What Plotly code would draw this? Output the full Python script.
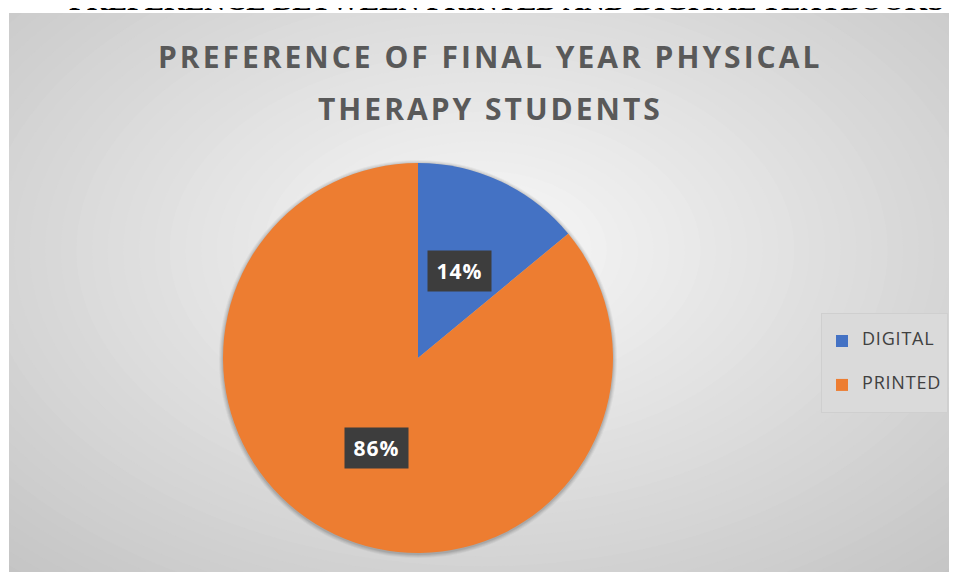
import math
import plotly.graph_objects as go

# ---- data ----
categories = ["DIGITAL", "PRINTED"]
percent_values = [14, 86]
slice_colors = ["#4472C4", "#ED7D31"]
title_lines = ["PREFERENCE OF FINAL YEAR PHYSICAL", "THERAPY STUDENTS"]
page_heading = "PREFERENCE BETWEEN PRINTED AND DIGITAL TEXTBOOKS"

# browser body margin is 8px; keep the page from scrolling
OFF = 8
W, H = 957 - OFF, 580 - 2 * OFF


def px(x):
    """page pixel x -> paper x"""
    return (x - OFF) / W


def py(y):
    """page pixel y -> paper y"""
    return 1 - (y - OFF) / H


# pie geometry (page pixels)
cx, cy, R = 418, 358, 195
chart_top = 13

legend_labels = [
    f"&nbsp;<br><span style='font-size:18px;letter-spacing:0.8px'>{c}</span><br>&nbsp;"
    for c in categories
]

fig = go.Figure(
    go.Pie(
        labels=legend_labels,
        values=percent_values,
        sort=False,
        direction="clockwise",
        rotation=0,
        marker=dict(colors=slice_colors, line=dict(width=0)),
        textinfo="none",
        hovertext=categories,
        hoverinfo="text+percent",
        domain=dict(x=[px(cx - R), px(cx + R)], y=[py(cy + R), py(cy - R)]),
    )
)

# ---- background: radial grey gradient ----
shapes = [
    dict(type="rect", xref="paper", yref="paper", x0=px(9), x1=1, y0=0, y1=py(chart_top),
         fillcolor="rgb(190,190,190)", line_width=0, layer="below")
]
gx, gy, ax, ay = 482, 250, 600, 380
K = 50
for i in range(K, 0, -1):
    d = 1.3 * i / K
    c = max(0, min(255, round(249 - 45 * d)))
    shapes.append(dict(
        type="circle", xref="paper", yref="paper",
        x0=px(gx - ax * d), x1=px(gx + ax * d),
        y0=py(gy + ay * d), y1=py(gy - ay * d),
        fillcolor=f"rgb({c},{c},{c})", line_width=0, layer="below"))
# white page strips (left and top)
shapes.append(dict(type="rect", xref="paper", yref="paper", x0=px(-200), x1=px(9),
                   y0=py(800), y1=py(-200), fillcolor="white", line_width=0, layer="below"))
shapes.append(dict(type="rect", xref="paper", yref="paper", x0=px(-200), x1=px(1200),
                   y0=py(chart_top), y1=py(-200), fillcolor="white", line_width=0, layer="below"))
# soft shadow around the pie
for k, op in [(4, 0.04), (3, 0.05), (2, 0.06), (1, 0.08)]:
    shapes.append(dict(
        type="circle", xref="paper", yref="paper",
        x0=px(cx - R - k), x1=px(cx + R + k), y0=py(cy + R + k + 1), y1=py(cy - R - k + 1),
        fillcolor=f"rgba(0,0,0,{op})", line_width=0, layer="below"))

annotations = []
# clipped page heading at very top
annotations.append(dict(
    text=page_heading, xref="paper", yref="paper", x=px(506), y=py(chart_top + 5),
    xanchor="center", yanchor="bottom", showarrow=False,
    font=dict(family="Liberation Serif", size=29, color="black", weight="bold")))
# chart title
for line, yc in zip(title_lines, [56, 108]):
    annotations.append(dict(
        text=f"<span style='letter-spacing:3px'><b>{line}</b></span>",
        xref="paper", yref="paper", x=px(490), y=py(yc),
        xanchor="center", yanchor="middle", showarrow=False,
        font=dict(family="Open Sans", size=30, color="#595959")))

# data labels at half radius along slice mid-angle
total = sum(percent_values)
cum = 0
for v in percent_values:
    mid = (cum + v / 2) / total * 2 * math.pi
    cum += v
    lx = cx + 0.5 * R * math.sin(mid)
    ly = cy - 0.5 * R * math.cos(mid)
    annotations.append(dict(
        text=f"<span style='letter-spacing:1px'><b>{v}%</b></span>",
        xref="paper", yref="paper", x=px(lx), y=py(ly + 1.5),
        xanchor="center", yanchor="middle", showarrow=False,
        bgcolor="#3d3d3d", borderpad=4, width=55, height=32,
        font=dict(family="Open Sans", size=21, color="white")))

fig.update_layout(
    width=W, height=H,
    margin=dict(l=0, r=0, t=0, b=0),
    paper_bgcolor="white",
    plot_bgcolor="rgba(0,0,0,0)",
    shapes=shapes,
    annotations=annotations,
    showlegend=True,
    legend=dict(
        x=px(821), y=py(313), xanchor="left", yanchor="top",
        bgcolor="#dadada", bordercolor="#cfcfcf", borderwidth=1,
        font=dict(family="Open Sans", size=10.5, color="#404040"),
    ),
)

fig.write_html("out.html")
